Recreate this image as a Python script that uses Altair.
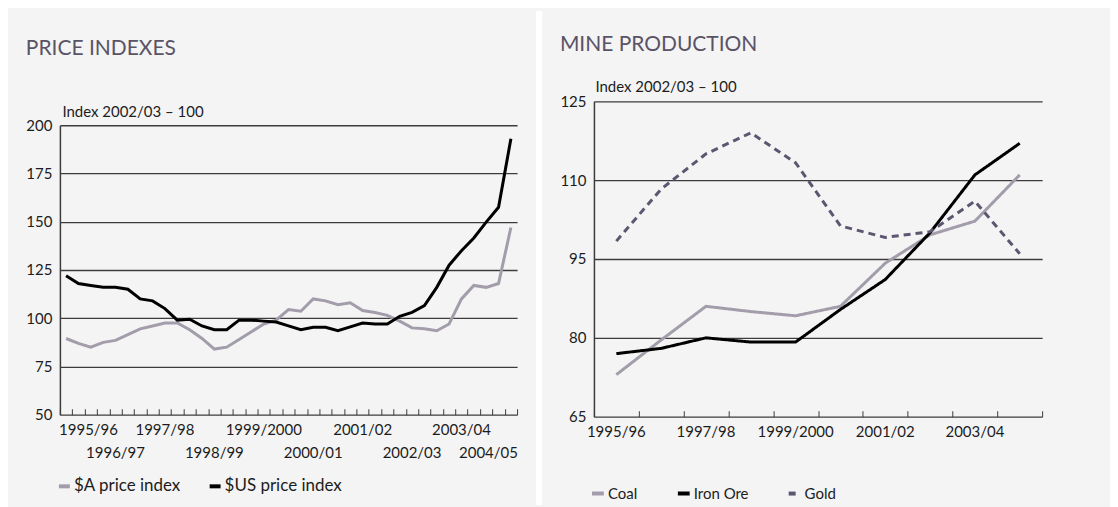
import altair as alt
import pandas as pd

# ---------------- data ----------------
years = ["1995/96", "1996/97", "1997/98", "1998/99", "1999/2000",
         "2000/01", "2001/02", "2002/03", "2003/04", "2004/05"]

# quarterly price indexes, 1995/96 Q1 .. 2004/05 Q1
quarters = [f"{y} Q{q}" for y in years for q in (1, 2, 3, 4)][:37]
aud_price_index = [89.5, 87, 85, 87.5, 88.5, 91.5, 94.5, 96, 97.5, 97.5,
                   94, 89.5, 84, 85, 89, 93, 97, 99, 104.5, 103.6,
                   110, 109, 107, 108, 104, 103, 101.5, 98.5, 95, 94.5,
                   93.5, 97, 110, 117, 116, 118, 147]
usd_price_index = [122, 118, 117, 116, 116, 115, 110, 109, 105, 99,
                   99.5, 96, 94, 94, 99, 99, 98.5, 98, 96, 94,
                   95.3, 95.3, 93.5, 95.5, 97.5, 97, 97, 101, 103, 106.5,
                   116, 127.5, 135, 141.6, 149.8, 157.5, 193]
price_series = ["$A price index", "$US price index"]

# annual mine production
coal = [73, 79.6, 86, 85, 84.2, 86, 94.2, 99.6, 102.2, 111]
iron_ore = [77, 78, 80, 79.2, 79.2, 85.4, 91.1, 100, 111, 117]
gold = [98.4, 108.3, 115, 119, 113.3, 101.3, 99.1, 100.2, 106, 96]
mine_series = ["Coal", "Iron Ore", "Gold"]

price_ticks = [50, 75, 100, 125, 150, 175, 200]
mine_ticks = [65, 80, 95, 110, 125]

df_price = pd.DataFrame({
    "quarter": quarters * 2,
    "series": [price_series[0]] * len(quarters) + [price_series[1]] * len(quarters),
    "value": aud_price_index + usd_price_index,
})
df_mine = pd.DataFrame({
    "year": years * 3,
    "series": sum([[s] * len(years) for s in mine_series], []),
    "value": coal + iron_ore + gold,
})

# ---------------- style ----------------
FONT = "Lato"
TXT = "#1c1c1c"
TITLE_C = "#5a5366"
GRAY_LINE = "#a39dab"
GOLD_C = "#5e5670"
GRID = "#3c3c3c"
BG = "#f4f4f4"
LBL = 15

W1, H1 = 458, 314   # left plot shares its top with the right one; data starts lower
TOP1 = 24           # pixel offset of the 200 line inside the left plot
W2, H2 = 449, 316
RULE_TOP = -90
RULE_BOTTOM = 404


def label_expr(values, cut):
    arr = "[" + ",".join(f"'{v}'" for v in values) + "]"
    return f"indexof({arr}, datum.value) >= 0 ? {cut} : ''"


q_even = [f"{y} Q1" for y in years[0::2]]
q_odd = [f"{y} Q1" for y in years[1::2]]

xs_price = alt.Scale(type="band", paddingInner=0, paddingOuter=0, domain=quarters)
ys_price = alt.Scale(domain=[50, 200], nice=False, zero=False, range=[H1, TOP1])


def x_lab_axis(values, pad):
    return alt.Axis(orient="bottom", title=None, ticks=False, domain=False, grid=False,
                    labelExpr=label_expr(values, "slice(datum.value, 0, -3)"),
                    labelPadding=pad, labelFlush=15, labelFlushOffset=7,
                    labelOverlap=False, labelAngle=0, labelFont=FONT,
                    labelFontSize=LBL, labelColor=TXT)


tick_axis_price = alt.Axis(orient="top", offset=-H1, title=None, labels=False,
                           domain=False, grid=False, ticks=True, tickSize=6,
                           tickBand="extent", tickColor=GRID, tickWidth=1)

y_axis_price = alt.Axis(orient="left", values=price_ticks, grid=True, gridColor=GRID,
                        gridWidth=1.3, ticks=False, domain=True, domainColor=GRID,
                        domainWidth=1.5, labelPadding=8, labelFont=FONT,
                        labelFontSize=LBL, labelColor=TXT,
                        title="Index 2002/03 – 100", titleAngle=0, titleX=2,
                        titleY=TOP1 - 14, titleAlign="left", titleBaseline="middle",
                        titleFont=FONT, titleFontSize=15, titleFontWeight="normal",
                        titleColor=TXT)

price_lines = alt.Chart(df_price).mark_line(strokeWidth=3).encode(
    x=alt.X("quarter:O", scale=xs_price, sort=quarters, bandPosition=0.5,
            axis=x_lab_axis(q_even, 8)),
    y=alt.Y("value:Q", scale=ys_price, axis=y_axis_price),
    color=alt.Color("series:N",
                    scale=alt.Scale(domain=price_series, range=[GRAY_LINE, "#000000"]),
                    legend=alt.Legend(title=None, orient="none", legendX=-4, legendY=377,
                                      direction="horizontal", symbolType="stroke",
                                      symbolStrokeWidth=4, symbolSize=120,
                                      labelFont=FONT, labelFontSize=17,
                                      labelColor=TXT, labelOffset=1,
                                      columnPadding=20, padding=0)),
)

price_row2 = alt.Chart(df_price).mark_line(strokeOpacity=0).encode(
    x=alt.X("quarter:O", scale=xs_price, sort=quarters, bandPosition=0.5,
            axis=x_lab_axis(q_odd, 31)),
    y=alt.Y("value:Q", scale=ys_price, axis=None),
    detail="series:N",
)
price_ticks_layer = alt.Chart(df_price).mark_line(strokeOpacity=0).encode(
    x=alt.X("quarter:O", scale=xs_price, sort=quarters, bandPosition=0.5,
            axis=tick_axis_price),
    y=alt.Y("value:Q", scale=ys_price, axis=None),
    detail="series:N",
)
# white gap between the two panels
gap_rule = alt.Chart(df_price).mark_rule(color="white", strokeWidth=6).encode(
    x=alt.value(W1 + 22), y=alt.value(RULE_TOP), y2=alt.value(RULE_BOTTOM),
)

left = alt.layer(price_lines, price_row2, price_ticks_layer, gap_rule).resolve_axis(
    x="independent", y="independent"
).properties(
    width=W1, height=H1,
    title=alt.Title("PRICE INDEXES", anchor="start", frame="bounds", offset=-51,
                    font=FONT, fontSize=21, fontWeight="normal", color=TITLE_C),
)

# ---------------- right chart ----------------
xs_mine = alt.Scale(type="band", paddingInner=0, paddingOuter=0, domain=years)
ys_mine = alt.Scale(domain=[65, 125], nice=False, zero=False)

y_axis_mine = alt.Axis(orient="left", values=mine_ticks, grid=True, gridColor=GRID,
                       gridWidth=1.3, ticks=False, domain=True, domainColor=GRID,
                       domainWidth=1.5, labelPadding=8, labelFont=FONT,
                       labelFontSize=LBL, labelColor=TXT,
                       title="Index 2002/03 – 100", titleAngle=0, titleX=1,
                       titleY=-15, titleAlign="left", titleBaseline="middle",
                       titleFont=FONT, titleFontSize=15, titleFontWeight="normal",
                       titleColor=TXT)

mine_legend = alt.Legend(title=None, orient="none", legendX=-4, legendY=385,
                         direction="horizontal", symbolType="stroke",
                         symbolStrokeWidth=4, symbolSize=140,
                         labelFont=FONT, labelFontSize=15, labelColor=TXT,
                         labelOffset=2, columnPadding=32, padding=0)

mine_lines = alt.Chart(df_mine).mark_line(strokeWidth=3).encode(
    x=alt.X("year:O", scale=xs_mine, sort=years, bandPosition=0.5,
            axis=alt.Axis(orient="bottom", title=None, ticks=False, domain=False,
                          grid=False, labelExpr=label_expr(years[0::2], "datum.value"),
                          labelPadding=8, labelOverlap=False, labelAngle=0,
                          labelFont=FONT, labelFontSize=LBL, labelColor=TXT)),
    y=alt.Y("value:Q", scale=ys_mine, axis=y_axis_mine),
    color=alt.Color("series:N",
                    scale=alt.Scale(domain=mine_series,
                                    range=[GRAY_LINE, "#000000", GOLD_C]),
                    legend=mine_legend),
    strokeDash=alt.StrokeDash("series:N",
                              scale=alt.Scale(domain=mine_series,
                                              range=[[1, 0], [1, 0], [7, 5]]),
                              legend=mine_legend),
)

mine_ticks_layer = alt.Chart(df_mine).mark_line(strokeOpacity=0).encode(
    x=alt.X("year:O", scale=xs_mine, sort=years, bandPosition=0.5,
            axis=alt.Axis(orient="top", offset=-H2, title=None, labels=False,
                          domain=False, grid=False, ticks=True, tickSize=6,
                          tickBand="extent", tickColor=GRID, tickWidth=1)),
    y=alt.Y("value:Q", scale=ys_mine, axis=None),
    detail="series:N",
)
# invisible extent keeper so both panels share the same top/bottom
extent_rule = alt.Chart(df_mine).mark_rule(strokeOpacity=0, strokeWidth=1).encode(
    x=alt.value(W2 + 20), y=alt.value(RULE_TOP), y2=alt.value(RULE_BOTTOM),
)

right = alt.layer(mine_lines, mine_ticks_layer, extent_rule).resolve_axis(
    x="independent", y="independent"
).properties(
    width=W2, height=H2,
    title=alt.Title("MINE PRODUCTION", anchor="start", frame="bounds", offset=-44,
                    font=FONT, fontSize=21, fontWeight="normal", color=TITLE_C),
)

chart = alt.hconcat(left, right, spacing=17).resolve_scale(
    color="independent", strokeDash="independent"
).configure(
    background=BG,
    padding={"left": 17, "top": 0, "right": 48, "bottom": 0},
).configure_view(stroke=None)

chart.save("out.html", embed_options={"renderer": "svg", "actions": False})
